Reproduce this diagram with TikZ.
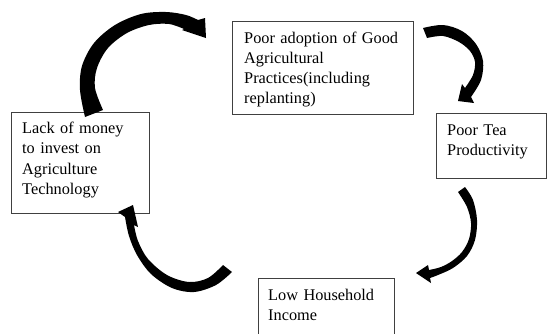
\documentclass[tikz,border=0pt]{standalone}
\usepackage{fontspec}
\setmainfont{Liberation Serif}
\begin{document}
\begin{tikzpicture}[x=1pt,y=-1pt,
  box/.style={draw=black!75, line width=0.9pt, inner sep=0pt, anchor=north west},
  txt/.style={anchor=base west, inner sep=0pt, text width=190pt, align=left,
              font=\fontsize{16.3pt}{20.3pt}\selectfont},
  blockarrow/.style={fill=black, draw=none},
  sm/.style={smooth, tension=0.55}]
\useasboundingbox (0,0) rectangle (547,333);
\clip (0,0) rectangle (547,333);
\fill[white] (0,0) rectangle (547,333);

% boxes
\node[box, minimum width=181pt, minimum height=93pt] (b1) at (232,21) {};
\node[box, minimum width=110pt, minimum height=65pt] (b2) at (436,113) {};
\node[box, minimum width=138pt, minimum height=101pt] (b3) at (11,112) {};
\node[box, minimum width=136pt, minimum height=70pt] (b4) at (258,278) {};

% texts
\node[txt] (t1) at (244,43) {Poor adoption of Good\\Agricultural\\Practices(including\\replanting)};
\node[txt] (t2) at (447,135) {Poor Tea\\Productivity};
\node[txt] (t3) at (22,133.5) {Lack of money\\to invest on\\Agriculture\\Technology};
\node[txt] (t4) at (268,300) {Low Household\\Income};

% arrow b3 -> b1
\fill[blockarrow] plot[sm] coordinates {(85,117) (80,90) (82,66) (94,43) (115,25) (141,14) (166,12) (186,15) (198,20)}
  -- (205,18) -- (206,38) -- (182,30)
  -- plot[sm] coordinates {(184,29) (169,24) (149,25) (127,33) (108,48) (97,68) (95,88) (103,110)} -- cycle;

% arrow b1 -> b2
\fill[blockarrow] plot[sm] coordinates {(423,28) (443,25) (462,31) (476,44) (483,61) (481,80) (471,97)}
  -- (474,103) -- (458,101) -- (462,84)
  -- plot[sm] coordinates {(465,88) (473,75) (475,62) (470,51) (459,42) (443,36) (427,38)} -- cycle;

% arrow b2 -> b4
\fill[blockarrow] plot[sm] coordinates {(465,187) (473,200) (477,220) (475,240) (467,256) (453,268) (438,275) (430,278)}
  -- (431,283) -- (416,273) -- (428,265)
  -- plot[sm] coordinates {(429,270) (441,267) (452,261) (462,252) (469,239) (471,223) (467,207) (458,192)} -- cycle;

% arrow b4 -> b3
\fill[blockarrow] plot[sm] coordinates {(232,272) (216,285) (194,292) (172,288) (151,274) (137,255) (129,236) (125,217)}
  -- (118,212) -- (133,205) -- (138,227)
  -- plot[sm] coordinates {(134,225) (138,241) (148,259) (167,275) (189,282) (208,278) (223,265)} -- cycle;
\end{tikzpicture}
\end{document}
